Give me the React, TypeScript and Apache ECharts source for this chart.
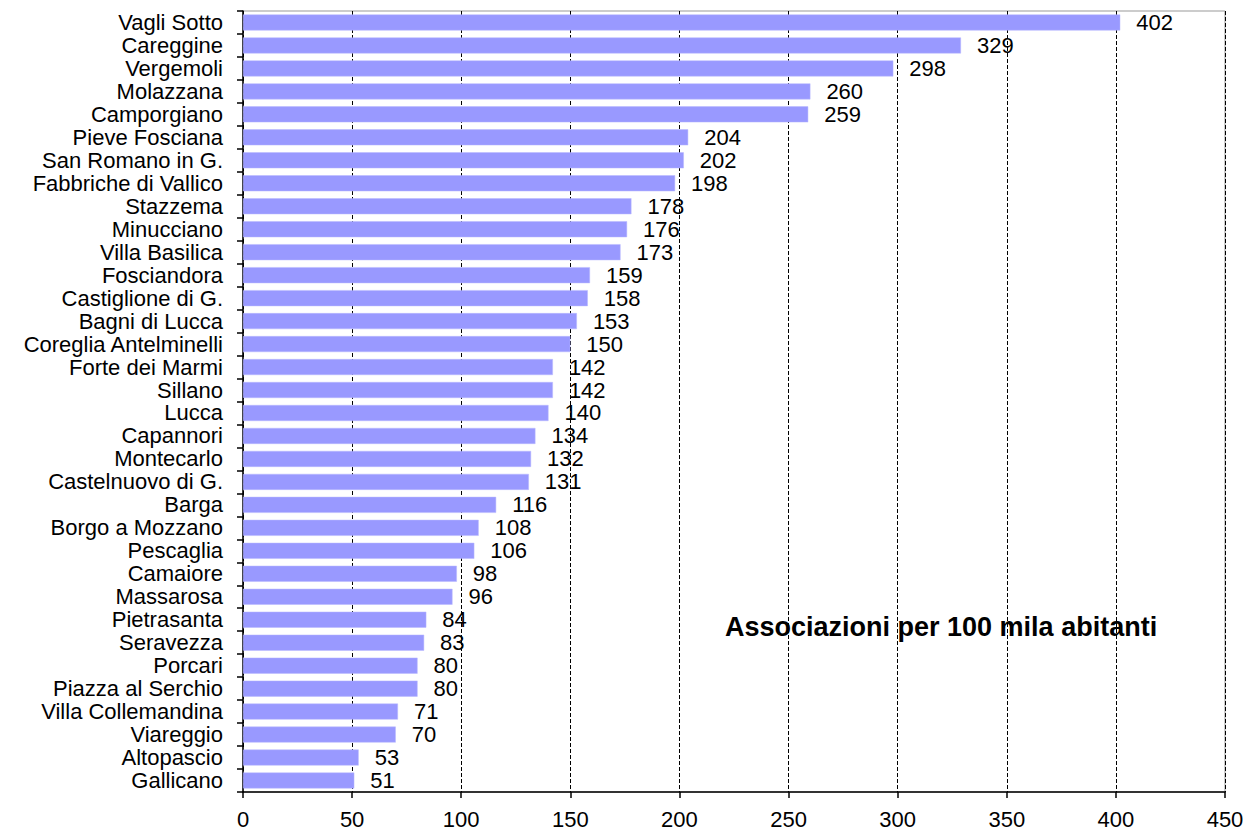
import React, { useEffect, useRef } from "react";
import * as echarts from "echarts";

const categories = [
  "Vagli Sotto", "Careggine", "Vergemoli", "Molazzana", "Camporgiano",
  "Pieve Fosciana", "San Romano in G.", "Fabbriche di Vallico", "Stazzema",
  "Minucciano", "Villa Basilica", "Fosciandora", "Castiglione di G.",
  "Bagni di Lucca", "Coreglia Antelminelli", "Forte dei Marmi", "Sillano",
  "Lucca", "Capannori", "Montecarlo", "Castelnuovo di G.", "Barga",
  "Borgo a Mozzano", "Pescaglia", "Camaiore", "Massarosa", "Pietrasanta",
  "Seravezza", "Porcari", "Piazza al Serchio", "Villa Collemandina",
  "Viareggio", "Altopascio", "Gallicano",
];

const values = [
  402, 329, 298, 260, 259, 204, 202, 198, 178, 176, 173, 159, 158, 153, 150,
  142, 142, 140, 134, 132, 131, 116, 108, 106, 98, 96, 84, 83, 80, 80, 71, 70,
  53, 51,
];

const xMin = 0;
const xMax = 450;
const xStep = 50;

const titleText = "Associazioni per 100 mila abitanti";

const FONT = "'Liberation Sans', Arial, sans-serif";

export default function App() {
  const ref = useRef<HTMLDivElement>(null);

  useEffect(() => {
    if (!ref.current) return;
    const chart = echarts.init(ref.current, null, { renderer: "svg" });
    chart.setOption({
      animation: false,
      backgroundColor: "#ffffff",
      textStyle: { fontFamily: FONT },
      title: {
        text: titleText,
        left: 720,
        top: 608,
        textStyle: {
          fontFamily: FONT,
          fontWeight: "bold",
          fontSize: 27,
          color: "#000",
        },
      },
      grid: {
        left: 243,
        top: 11,
        right: 33,
        bottom: 40,
        show: true,
        borderColor: "#999999",
        borderWidth: 1,
        containLabel: false,
      },
      xAxis: {
        type: "value",
        min: xMin,
        max: xMax,
        interval: xStep,
        axisLine: { show: true, lineStyle: { color: "#000", width: 1.5 } },
        axisTick: { show: true, length: 6, inside: false, lineStyle: { color: "#000", width: 1.5 } },
        axisLabel: { color: "#000", fontSize: 22, fontFamily: FONT, margin: 16 },
        splitLine: {
          show: true,
          lineStyle: { color: "#000", type: [4, 2], width: 1 },
        },
      },
      yAxis: {
        type: "category",
        data: categories,
        inverse: true,
        axisLine: { show: true, lineStyle: { color: "#000", width: 1.5 } },
        axisTick: { show: true, length: 6, inside: false, alignWithLabel: false, lineStyle: { color: "#000", width: 1.5 } },
        axisLabel: { color: "#000", fontSize: 22, fontFamily: FONT, margin: 20, interval: 0 },
        splitLine: { show: false },
      },
      series: [
        {
          type: "bar",
          data: values,
          barWidth: 16,
          itemStyle: { color: "#9999FF", borderColor: "#B8B8FF", borderWidth: 0.5 },
          label: {
            show: true,
            position: "right",
            distance: 16,
            color: "#000",
            fontSize: 22,
            fontFamily: FONT,
          },
        },
      ],
    });
    return () => chart.dispose();
  }, []);

  return (
    <div
      ref={ref}
      style={{ position: "fixed", left: 0, top: 0, width: 1258, height: 832 }}
    />
  );
}
